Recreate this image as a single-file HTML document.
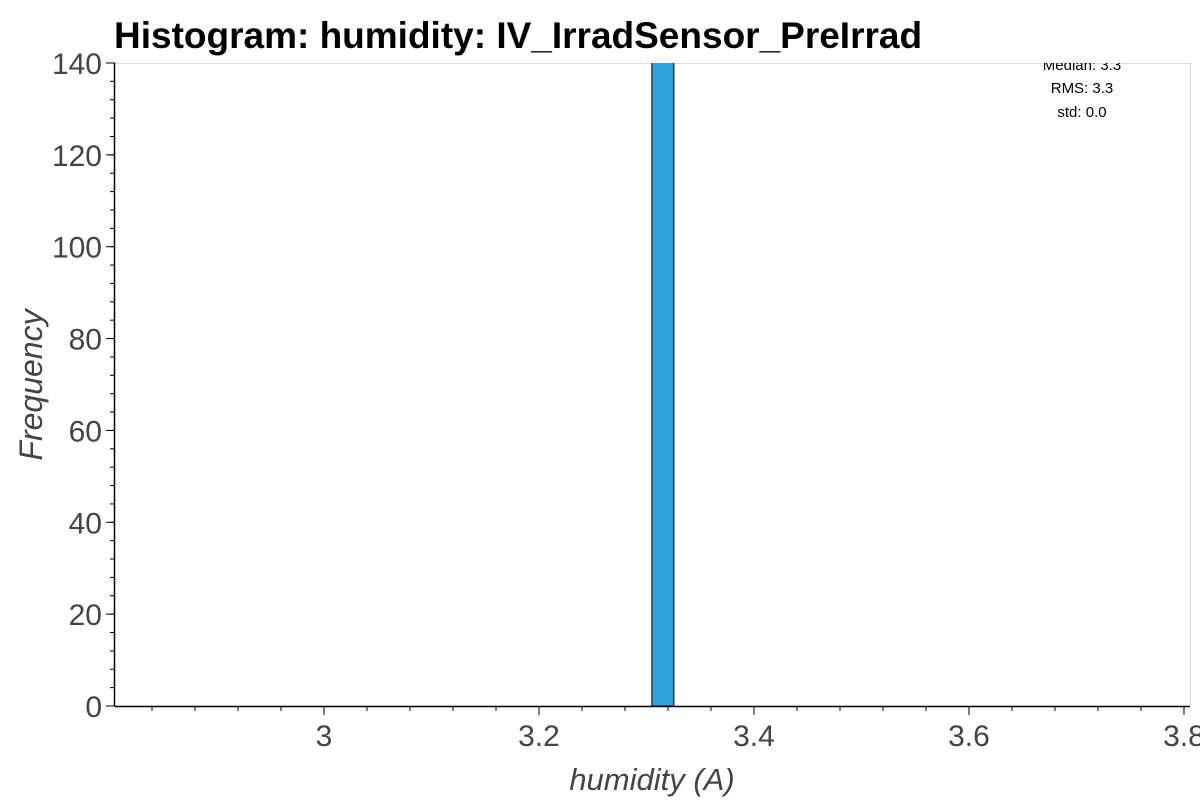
<!DOCTYPE html>
<html><head><meta charset="utf-8"><style>
html,body{margin:0;padding:0;background:#fff;}
svg{display:block;font-family:"Liberation Sans",sans-serif;}
</style></head><body>
<svg id="chart" width="1200" height="800">
<defs><clipPath id="plotclip"><rect x="115" y="63" width="1075" height="643"/></clipPath></defs>
<text x="114" y="48" font-size="37" font-weight="bold" fill="#000">Histogram: humidity: IV_IrradSensor_PreIrrad</text>
<line x1="115" y1="63.5" x2="1190" y2="63.5" stroke="#ddd"/>
<line x1="1190.5" y1="63" x2="1190.5" y2="706" stroke="#ddd"/>
<g id="bars" clip-path="url(#plotclip)"></g>
<g id="axes"></g>
<text x="1082" y="70" font-size="15" text-anchor="middle" fill="#000" clip-path="url(#plotclip)">Median: 3.3</text>
<text x="1082" y="93" font-size="15" text-anchor="middle" fill="#000">RMS: 3.3</text>
<text x="1082" y="117" font-size="15" text-anchor="middle" fill="#000">std: 0.0</text>
<text x="652" y="790" font-size="31" font-style="italic" text-anchor="middle" fill="#444">humidity (A)</text>
<text transform="translate(42,385) rotate(-90)" font-size="32" font-style="italic" text-anchor="middle" fill="#444">Frequency</text>
</svg>
<script>
const binEdgesLo = [3.305];
const binEdgesHi = [3.3255];
const binCounts = [160];
const xTicks = [3, 3.2, 3.4, 3.6, 3.8];
const xTickLabels = ["3", "3.2", "3.4", "3.6", "3.8"];
const yTicks = [0, 20, 40, 60, 80, 100, 120, 140];
const yTickLabels = ["0", "20", "40", "60", "80", "100", "120", "140"];

const X0 = 115, X1 = 1190, Y0 = 706, Y1 = 63;
const xMin = 2.8056, xMax = 3.8056, yMin = 0, yMax = 140;
const sx = v => X0 + (v - xMin) / (xMax - xMin) * (X1 - X0);
const sy = v => Y0 - (v - yMin) / (yMax - yMin) * (Y0 - Y1);
const NS = "http://www.w3.org/2000/svg";
const bars = document.getElementById('bars');
const axes = document.getElementById('axes');
function mk(tag, attrs, parent) {
  const e = document.createElementNS(NS, tag);
  for (const k in attrs) e.setAttribute(k, attrs[k]);
  parent.appendChild(e);
  return e;
}
binCounts.forEach((c, i) => {
  const x = sx(binEdgesLo[i]), x2 = sx(binEdgesHi[i]);
  const r = mk('rect', {x: x, y: sy(c), width: x2 - x, height: Y0 - sy(c), fill: '#2ea0da', stroke: '#000', 'stroke-width': 1}, bars);
  
  
});
const xa = mk('line', {x1: X0, y1: Y0 + 0.5, x2: X1, y2: Y0 + 0.5, stroke: '#000', 'stroke-width': 1.5}, axes);


const ya = mk('line', {x1: X0 - 0.5, y1: Y1, x2: X0 - 0.5, y2: Y0, stroke: '#000', 'stroke-width': 1.5}, axes);


for (let k = Math.ceil(xMin / 0.04); k * 0.04 <= xMax + 1e-9; k++) {
  const v = k * 0.04;
  const t = mk('line', {x1: sx(v), y1: Y0, x2: sx(v), y2: Y0 + 5, stroke: '#000'}, axes);
  
  
}
xTicks.forEach((v, i) => {
  const t = mk('line', {x1: sx(v), y1: Y0, x2: sx(v), y2: Y0 + 9, stroke: '#000'}, axes);
  
  
  const l = mk('text', {x: sx(v), y: Y0 + 40, 'font-size': 30, 'text-anchor': 'middle', fill: '#444'}, axes);
  l.textContent = xTickLabels[i];
  
  
});
for (let v = yMin; v <= yMax; v += 4) {
  const t = mk('line', {x1: X0 - 5, y1: sy(v), x2: X0, y2: sy(v), stroke: '#000'}, axes);
  
  
}
yTicks.forEach((v, i) => {
  const t = mk('line', {x1: X0 - 9, y1: sy(v), x2: X0, y2: sy(v), stroke: '#000'}, axes);
  
  
  const l = mk('text', {x: X0 - 13, y: sy(v) + 11, 'font-size': 30, 'text-anchor': 'end', fill: '#444'}, axes);
  l.textContent = yTickLabels[i];
  
  
});
</script>
</body></html>
